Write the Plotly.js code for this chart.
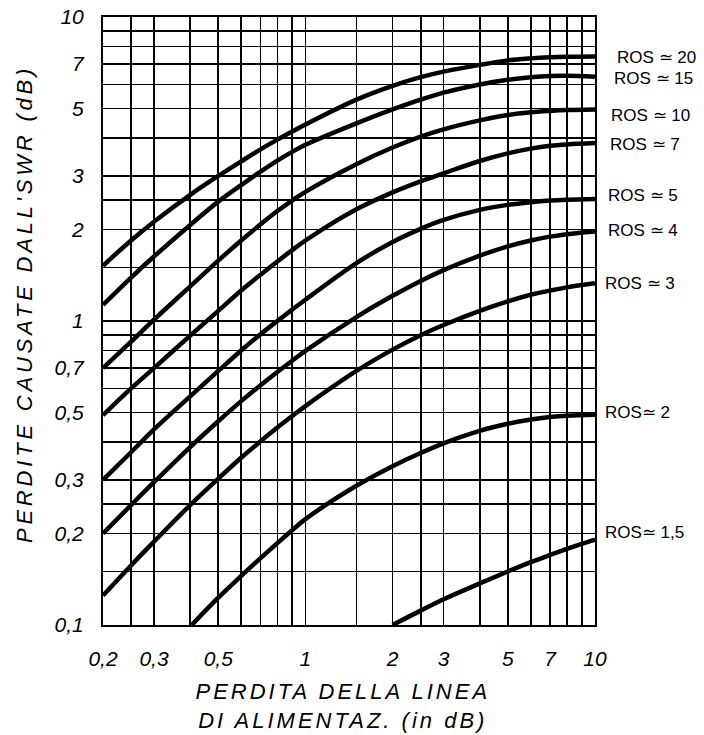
<!DOCTYPE html>
<html>
<head>
<meta charset="utf-8">
<script src="https://cdn.plot.ly/plotly-3.0.1.min.js"></script>
<style>
html,body{margin:0;padding:0;background:#fff;}
#chart{width:704px;height:735px;}
g.annotation[data-index="0"] text{letter-spacing:3.8px;}
g.annotation[data-index="1"] text{letter-spacing:3px;}
</style>
</head>
<body>
<div id="chart"></div>
<script>
// ---- data ----
const xMain = [0.2,0.25,0.3,0.4,0.5,0.6,0.7,0.8,0.9,1,1.5,2,2.5,3,4,5,6,7,8,10];
const ros20 = [1.52,1.84,2.12,2.6,3.0,3.35,3.67,3.95,4.2,4.43,5.35,5.94,6.34,6.61,6.96,7.2,7.31,7.37,7.4,7.42];
const ros15 = [1.13,1.39,1.63,2.07,2.47,2.8,3.1,3.37,3.6,3.8,4.47,4.97,5.35,5.64,6.0,6.22,6.34,6.4,6.41,6.36];
const ros10 = [0.70,0.855,1.01,1.3,1.58,1.84,2.08,2.3,2.49,2.66,3.28,3.72,4.04,4.27,4.57,4.76,4.86,4.91,4.94,4.96];
const ros7  = [0.49,0.6,0.7,0.895,1.08,1.26,1.42,1.57,1.71,1.84,2.33,2.65,2.88,3.06,3.36,3.56,3.69,3.77,3.81,3.85];
const ros5  = [0.30,0.37,0.44,0.565,0.685,0.80,0.905,1.0,1.09,1.175,1.55,1.82,2.01,2.15,2.32,2.41,2.46,2.49,2.505,2.52];
const ros4  = [0.2,0.248,0.295,0.385,0.468,0.545,0.615,0.68,0.74,0.797,1.03,1.21,1.355,1.47,1.64,1.76,1.84,1.895,1.93,1.97];
const ros3  = [0.125,0.157,0.188,0.248,0.303,0.355,0.402,0.446,0.487,0.525,0.685,0.805,0.898,0.97,1.08,1.16,1.22,1.26,1.29,1.33];
const xRos2 = [0.405,0.5,0.6,0.7,0.8,0.9,1,1.5,2,2.5,3,4,5,6,7,8,10];
const ros2  = [0.1,0.123,0.145,0.166,0.186,0.205,0.223,0.287,0.333,0.368,0.396,0.435,0.459,0.474,0.483,0.488,0.492];
const xRos15 = [2,2.5,3,4,5,6,7,8,9,10];
const ros1_5 = [0.1,0.1115,0.1215,0.137,0.15,0.161,0.17,0.178,0.185,0.191];

const seriesLabels = ['ROS ≃ 20','ROS ≃ 15','ROS ≃ 10','ROS ≃ 7','ROS ≃ 5','ROS ≃ 4','ROS ≃ 3','ROS≃ 2','ROS≃ 1,5'];

const xTickVals = [0.2,0.25,0.3,0.4,0.5,0.6,0.7,0.8,0.9,1,1.5,2,2.5,3,4,5,6,7,8,9,10];
const xTickText = ['0,2','','0,3','','0,5','','','','','1','','2','','3','','5','','7','','','10'];
const yTickVals = [0.1,0.15,0.2,0.25,0.3,0.4,0.5,0.6,0.7,0.8,0.9,1,1.5,2,2.5,3,4,5,6,7,8,9,10];
const yTickText = ['0,1','','0,2','','0,3','','0,5','','0,7','','','1','','2','','3','','5','','7','','','10'];

const xTitle = 'PERDITA DELLA LINEA<br>DI ALIMENTAZ. (in dB)';
const yTitle = "PERDITE CAUSATE DALL'SWR (dB)";

// ---- build ----
const curves = [
  [xMain, ros20], [xMain, ros15], [xMain, ros10], [xMain, ros7],
  [xMain, ros5], [xMain, ros4], [xMain, ros3], [xRos2, ros2], [xRos15, ros1_5]
];

const traces = curves.map((c, i) => ({
  x: c[0], y: c[1], type: 'scatter', mode: 'lines', name: seriesLabels[i],
  line: {color: '#000', width: 4.5, shape: 'spline', smoothing: 1},
  hoverinfo: 'skip', showlegend: false
}));

const FONT = 'Liberation Sans, Arial, sans-serif';
const labelDx = [20,17,14,13,11,11,8,8,8];
const labelDy = [-1,-2,-6,-1,3,1,0,2,7];

const annotations = [
  {xref:'paper', yref:'paper', x:-0.1585, y:0.528, xanchor:'center', yanchor:'middle',
   textangle:-90, showarrow:false, text:yTitle,
   font:{family:FONT, size:22, color:'#000', style:'italic'}},
  {xref:'paper', yref:'paper', x:0.4878, y:-0.133, xanchor:'center', yanchor:'middle',
   showarrow:false, text:xTitle, align:'center',
   font:{family:FONT, size:22, color:'#000', style:'italic'}}
];
curves.forEach((c, i) => {
  const ys = c[1];
  const xs = c[0];
  annotations.push({
    xref:'x', yref:'y', x:Math.log10(xs[xs.length-1]), y:Math.log10(ys[ys.length-1]),
    xanchor:'left', yanchor:'middle', showarrow:false, text:seriesLabels[i],
    xshift:labelDx[i], yshift:labelDy[i],
    font:{family:FONT, size:17, color:'#000'}
  });
});

const axisCommon = {
  type:'log', tickmode:'array', showgrid:true, gridcolor:'#000', gridwidth:1.7,
  showline:true, mirror:true, linecolor:'#000', linewidth:2,
  ticks:'outside', tickcolor:'rgba(0,0,0,0)',
  tickfont:{family:FONT, size:21, color:'#000', style:'italic'},
  zeroline:false, fixedrange:true
};

const layout = {
  width:704, height:735,
  margin:{l:103, r:109, t:17, b:110},
  paper_bgcolor:'#fff', plot_bgcolor:'#fff',
  showlegend:false,
  xaxis:Object.assign({}, axisCommon, {
    range:[Math.log10(0.2), 1], tickvals:xTickVals, ticktext:xTickText, ticklen:14
  }),
  yaxis:Object.assign({}, axisCommon, {
    range:[-1, 1], tickvals:yTickVals, ticktext:yTickText, ticklen:13
  }),
  annotations:annotations
};

Plotly.newPlot('chart', traces, layout, {staticPlot:true, displayModeBar:false});
</script>
</body>
</html>
